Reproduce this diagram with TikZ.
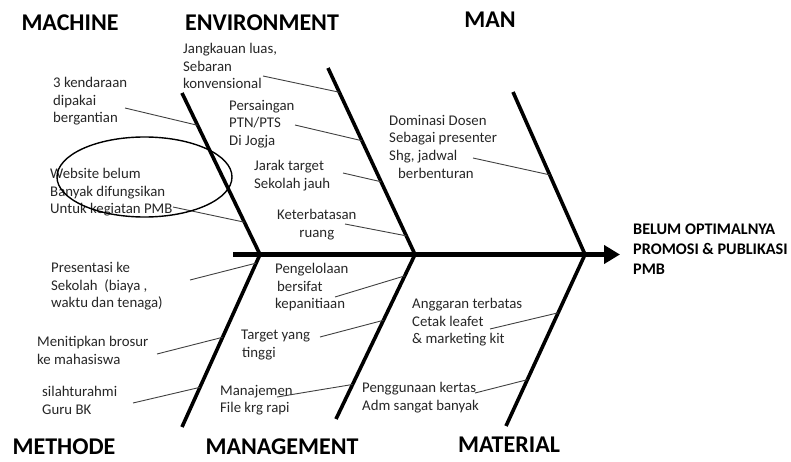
\documentclass[tikz,border=0pt]{standalone}
\usepackage{fontspec}
\setmainfont{Carlito}
\usetikzlibrary{calc,arrows.meta}

\begin{document}
\begin{tikzpicture}[
  x=1pt, y=-1pt,
  spine/.style={line width=5.5pt, -{Triangle[length=16pt,width=18pt]}},
  bone/.style={line width=3.6pt},
  twig/.style={line width=0.9pt, black!75},
  ring/.style={line width=1.4pt},
  head/.style={inner sep=0pt, font=\bfseries\fontsize{24}{28}\selectfont},
  cause/.style={anchor=north west, align=left, inner sep=0pt, text=black!85,
    font=\fontsize{14.8}{17.6}\selectfont},
  effect/.style={anchor=north west, align=left, inner sep=0pt,
    font=\bfseries\fontsize{16.2}{20}\selectfont}
]
\useasboundingbox (0,0) rectangle (791,462);

% ---------------- Spine ----------------
\coordinate (tail) at (233,254.5);
\coordinate (head) at (620,254.5);
\draw[spine] (tail) -- (head);

% joints on the spine
\coordinate (j1) at (260,254.5);
\coordinate (j2) at (415,254.5);
\coordinate (j3) at (585,254.5);

% ---------------- Bones ----------------
\coordinate (machTop) at (182,93);
\coordinate (envTop)  at (328,68);
\coordinate (manTop)  at (513,92);
\coordinate (methBot) at (182,427);
\coordinate (mgmtBot) at (336,419);
\coordinate (matBot)  at (506,426);
\foreach \e/\j in {machTop/j1, envTop/j2, manTop/j3, methBot/j1, mgmtBot/j2, matBot/j3}
  \draw[bone] (\e) -- (\j);

% points where the twigs meet the bones
\foreach \i/\a/\b/\t in {1/machTop/j1/0.2, 2/machTop/j1/0.8,
    3/envTop/j2/0.13, 4/envTop/j2/0.39, 5/envTop/j2/0.61, 6/envTop/j2/0.9,
    7/manTop/j3/0.51,
    8/j1/methBot/0.05, 9/j1/methBot/0.48, 10/j1/methBot/0.77,
    11/j2/mgmtBot/0.13, 12/j2/mgmtBot/0.4, 13/j2/mgmtBot/0.79,
    14/j3/matBot/0.34, 15/j3/matBot/0.73}
  \coordinate (b\i) at ($(\a)!\t!(\b)$);

% ---------------- Category labels ----------------
\foreach \x/\y/\t/\n in {70/23/MACHINE/machine, 262/23/ENVIRONMENT/environment,
    490/20/MAN/man, 64/447/METHODE/methode, 282/447/MANAGEMENT/management,
    509/445/MATERIAL/material}
  \node[head] (\n) at (\x,\y) {\t};

\node[effect] (effect) at (633,224) {BELUM OPTIMALNYA\\PROMOSI \& PUBLIKASI\\PMB};

% ---------------- Causes ----------------
\node[cause] (n1)  at (53,77)   {3 kendaraan\\dipakai\\bergantian};
\node[cause] (n2)  at (50,168)  {Website belum\\Banyak difungsikan\\Untuk kegiatan PMB};
\node[cause] (n3)  at (183,43)  {Jangkauan luas,\\Sebaran\\konvensional};
\node[cause] (n4)  at (229,100) {Persaingan\\PTN/PTS\\Di Jogja};
\node[cause] (n5)  at (254,160) {Jarak target\\Sekolah jauh};
\node[cause, align=center] (n6) at (277,209) {Keterbatasan\\ruang};
\node[cause] (n7)  at (389,115) {Dominasi Dosen\\Sebagai presenter\\Shg, jadwal\\\hspace{9pt}berbenturan};
\node[cause] (n8)  at (51,262)  {Presentasi ke\\Sekolah\ \ (biaya ,\\waktu dan tenaga)};
\node[cause] (n9)  at (37,336)  {Menitipkan brosur\\ke mahasiswa};
\node[cause] (n10) at (42,386)  {silahturahmi\\Guru BK};
\node[cause] (n11) at (275,263) {Pengelolaan\\\hspace{2pt}bersifat\\kepanitiaan};
\node[cause] (n12) at (241,330) {Target yang\\\hspace{1pt}tinggi};
\node[cause] (n13) at (220,385) {Manajemen\\File krg rapi};
\node[cause] (n14) at (412,298) {Anggaran terbatas\\Cetak leafet\\\& marketing kit};
\node[cause] (n15) at (362,382) {Penggunaan kertas\\Adm sangat banyak};

% twigs from the causes to the bones
\foreach \i/\dx/\dy in {1/72/31, 2/123/39, 3/80/33, 4/66/25, 5/89/13, 6/68/15,
    7/84/43, 8/139/18, 9/120/18, 10/91/17, 11/60/34, 12/79/7, 13/57/12,
    14/78/31, 15/113/11}
  \draw[twig] ($(n\i.north west)+(\dx,\dy)$) -- (b\i);

% highlight round the website cause
\draw[ring] (144.5,177) ellipse [x radius=87.5pt, y radius=40pt];

\end{tikzpicture}
\end{document}
